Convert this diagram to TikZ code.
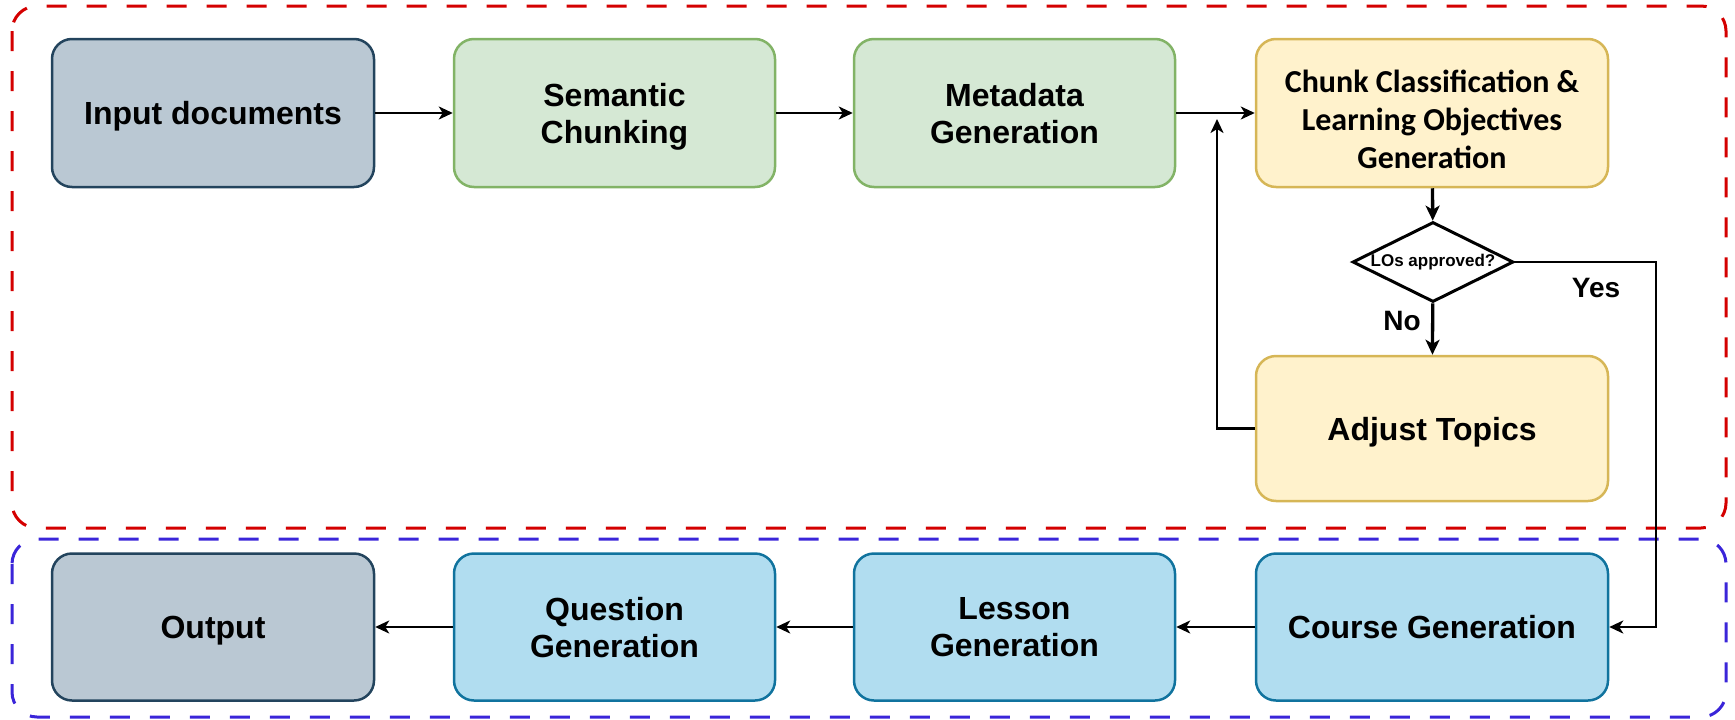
\documentclass[tikz,border=0pt]{standalone}
\usepackage{fontspec}
\setmainfont{Liberation Sans}
\newfontfamily\calib{Carlito}
\usetikzlibrary{arrows.meta,shapes.geometric}
\definecolor{grayfill}{HTML}{BAC8D3}
\definecolor{graydraw}{HTML}{23445D}
\definecolor{greenfill}{HTML}{D5E8D4}
\definecolor{greendraw}{HTML}{82B366}
\definecolor{yelfill}{HTML}{FFF2CC}
\definecolor{yeldraw}{HTML}{D6B656}
\definecolor{bluefill}{HTML}{B1DDF0}
\definecolor{bluedraw}{HTML}{10739E}
\definecolor{redgroup}{HTML}{D40000}
\definecolor{bluegroup}{HTML}{3A25D9}
\tikzset{
  box/.style={rectangle, rounded corners=20pt, line width=2.5pt, align=center,
    inner sep=0pt, text depth=0pt, font=\bfseries\fontsize{32}{37}\selectfont},
  graybox/.style={box, fill=grayfill, draw=graydraw},
  greenbox/.style={box, fill=greenfill, draw=greendraw},
  yelbox/.style={box, fill=yelfill, draw=yeldraw},
  bluebox/.style={box, fill=bluefill, draw=bluedraw},
  conn/.style={line width=2.3pt, -{Stealth[length=14pt,width=13pt,inset=4pt]}},
  thickconn/.style={line width=3.3pt, -{Stealth[length=15pt,width=14pt,inset=4pt]}},
  group/.style={line width=3pt, dash pattern=on 20pt off 20pt, rounded corners=25pt},
  lbl/.style={font=\bfseries\fontsize{28}{32}\selectfont, inner sep=0pt}
}
\begin{document}
\begin{tikzpicture}[x=1pt,y=-1pt]
\useasboundingbox (0,0) rectangle (1735,720);
% groups
\draw[group, draw=redgroup] (12,6) rectangle (1726,528);
\draw[group, draw=bluegroup] (12,539) rectangle (1726,717);
% row 1
\node[graybox, minimum width=322pt, minimum height=148pt] (in) at (213,113) {Input documents};
\node[greenbox, minimum width=321pt, minimum height=148pt] (sem) at (614.5,113) {Semantic\\Chunking};
\node[greenbox, minimum width=321pt, minimum height=148pt] (meta) at (1014.5,113) {Metadata\\Generation};
\node[yelbox, minimum width=352pt, minimum height=148pt] (chunk) at (1432,113) {};
\node[align=center, inner sep=0pt, font=\calib\bfseries\fontsize{32}{38}\selectfont]
  (chunktext) at ([yshift=-6pt]chunk.center) {Chunk Classification \&\\Learning Objectives\\Generation};
% decision
\node[diamond, draw, line width=3pt, fill=white, minimum width=161pt, minimum height=80pt, inner sep=0pt, aspect=2,
  font=\bfseries\fontsize{17}{20}\selectfont] (dia) at (1433,262) {LOs approved?};
\node[yelbox, minimum width=352pt, minimum height=145pt] (adj) at (1432,428.5) {Adjust Topics};
% row 3
\node[graybox, minimum width=322pt, minimum height=147pt] (out) at (213,627) {Output};
\node[bluebox, minimum width=321pt, minimum height=147pt] (qg) at (614.5,627) {Question\\Generation};
\node[bluebox, minimum width=321pt, minimum height=147pt] (lg) at (1014.5,627) {Lesson\\Generation};
\node[bluebox, minimum width=352pt, minimum height=147pt] (cg) at (1432,627) {Course Generation};
% connectors
\draw[conn] (in) -- (sem);
\draw[conn] (sem) -- (meta);
\draw[conn] (meta) -- (chunk);
\draw[thickconn] (chunk) -- (dia);
\draw[thickconn] (dia) -- (adj);
\coordinate (yesx) at (1656,262);
\draw[conn, line width=2.8pt] (dia.east) -- (yesx) |- (cg.east);
\coordinate (fb) at (1217,119);
\draw[conn, line width=2.6pt] (adj.west) -| (fb);
\draw[conn] (cg) -- (lg);
\draw[conn] (lg) -- (qg);
\draw[conn] (qg) -- (out);
% labels
\node[lbl] (no) at (1402,321) {No};
\node[lbl] (yes) at (1596,288) {Yes};
\end{tikzpicture}
\end{document}
